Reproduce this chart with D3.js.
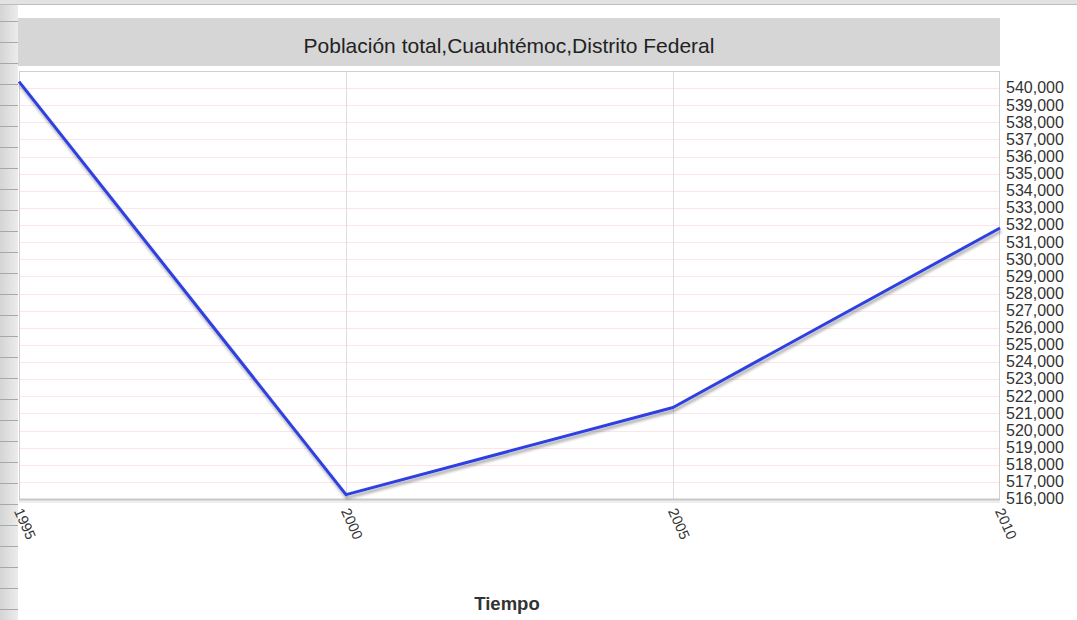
<!DOCTYPE html>
<html>
<head>
<meta charset="utf-8">
<script src="https://cdn.jsdelivr.net/npm/d3@7"></script>
<style>
  html, body { margin: 0; padding: 0; background: #fff; }
  svg { display: block; font-family: "Liberation Sans", Arial, sans-serif; }
</style>
</head>
<body>
<svg id="chart" width="1077" height="620"></svg>
<script>
// ---- data ----
const years = [1995, 2000, 2005, 2010];
const population = [540382, 516255, 521348, 531831];
const yTickValues = d3.range(516000, 541000, 1000);
const titleText = "Población total,Cuauhtémoc,Distrito Federal";
const xAxisTitle = "Tiempo";

// ---- layout ----
const W = 1077, H = 620;
const plot = { left: 19, right: 1000, top: 71, bottom: 499 };
const svg = d3.select("#chart");

const defs = svg.append("defs");
const f = defs.append("filter").attr("id", "shadow").attr("x", "-5%").attr("y", "-5%").attr("width", "110%").attr("height", "120%");
f.append("feGaussianBlur").attr("in", "SourceAlpha").attr("stdDeviation", 1.5).attr("result", "b");
f.append("feOffset").attr("in", "b").attr("dx", 1).attr("dy", 3).attr("result", "o");
f.append("feComponentTransfer").attr("in", "o").attr("result", "oa")
  .append("feFuncA").attr("type", "linear").attr("slope", 0.35);
const fm = f.append("feMerge");
fm.append("feMergeNode").attr("in", "oa");
fm.append("feMergeNode").attr("in", "SourceGraphic");

// background decoration (spreadsheet frame at left and top)
const grad = defs.append("linearGradient").attr("id", "strip").attr("x1", 0).attr("x2", 1);
grad.append("stop").attr("offset", "0%").attr("stop-color", "#d4d4d4");
grad.append("stop").attr("offset", "100%").attr("stop-color", "#ececec");
svg.append("rect").attr("x", 0).attr("y", 0).attr("width", 18).attr("height", H).attr("fill", "url(#strip)");
svg.append("g").selectAll("line").data(d3.range(0, H, 21)).join("line")
  .attr("x1", 0).attr("x2", 18).attr("y1", d => d + 0.5).attr("y2", d => d + 0.5)
  .attr("stroke", "#a8a8a8").attr("stroke-width", 1);
svg.append("rect").attr("x", 0).attr("y", 0).attr("width", W).attr("height", 5).attr("fill", "#e2e2e2");
svg.append("line").attr("x1", 0).attr("x2", W).attr("y1", 4.5).attr("y2", 4.5).attr("stroke", "#bdbdbd");

// title band
svg.append("rect").attr("x", 18).attr("y", 18).attr("width", 982).attr("height", 48).attr("fill", "#d6d6d6");
svg.append("text").attr("x", 509).attr("y", 52.5).attr("text-anchor", "middle")
  .attr("font-size", 21).attr("fill", "#222").text(titleText);

// scales
const x = d3.scaleLinear().domain([1995, 2010]).range([plot.left, plot.right]);
const y = d3.scaleLinear().domain([516000, 541000]).range([plot.bottom, plot.top]);

// plot background + shadow
svg.append("rect").attr("x", plot.left).attr("y", plot.bottom).attr("width", plot.right - plot.left).attr("height", 4)
  .attr("fill", "#eeeeee");
svg.append("rect").attr("x", plot.left).attr("y", plot.top).attr("width", plot.right - plot.left).attr("height", plot.bottom - plot.top)
  .attr("fill", "#fff");

// horizontal gridlines
svg.append("g").selectAll("line").data(yTickValues.concat([541000])).join("line")
  .attr("x1", plot.left).attr("x2", plot.right)
  .attr("y1", d => Math.round(y(d)) + 0.5).attr("y2", d => Math.round(y(d)) + 0.5)
  .attr("stroke", "#fbe4ea").attr("stroke-width", 1);

// vertical gridlines
svg.append("g").selectAll("line").data(years.slice(1, -1)).join("line")
  .attr("x1", d => Math.round(x(d)) + 0.5).attr("x2", d => Math.round(x(d)) + 0.5)
  .attr("y1", plot.top).attr("y2", plot.bottom)
  .attr("stroke", "#dddddd").attr("stroke-width", 1);

// plot border
svg.append("rect").attr("x", plot.left + 0.5).attr("y", plot.top + 0.5)
  .attr("width", plot.right - plot.left - 1).attr("height", plot.bottom - plot.top)
  .attr("fill", "none").attr("stroke", "#d0d0d0");
svg.append("line").attr("x1", plot.left).attr("x2", plot.right).attr("y1", plot.bottom + 0.5).attr("y2", plot.bottom + 0.5)
  .attr("stroke", "#c8c8c8").attr("stroke-width", 2);

// line
const line = d3.line().x((d, i) => x(years[i])).y(d => y(d));
svg.append("path").datum(population).attr("d", line)
  .attr("fill", "none").attr("stroke", "#2f3fe0").attr("stroke-width", 3)
  .attr("stroke-linejoin", "round").attr("filter", "url(#shadow)");

// y axis (right)
const yAxis = d3.axisRight(y).tickValues(yTickValues).tickSize(0).tickPadding(7)
  .tickFormat(d3.format(",.0f"));
const gy = svg.append("g").attr("transform", `translate(${plot.right - 1},0)`).call(yAxis);
gy.select(".domain").remove();
gy.selectAll("text").attr("font-size", 16).attr("fill", "#333")
  .attr("font-family", "Liberation Sans, Arial, sans-serif").attr("dy", "0.3em");

// x axis
const xAxis = d3.axisBottom(x).tickValues(years).tickSize(0).tickFormat(d3.format("d"));
const gx = svg.append("g").attr("transform", `translate(0,${plot.bottom + 4})`).call(xAxis);
gx.select(".domain").remove();
gx.selectAll("text")
  .attr("font-size", 14.5).attr("fill", "#333").attr("font-family", "Liberation Sans, Arial, sans-serif")
  .attr("text-anchor", "start").attr("dy", "0.35em").attr("y", 0).attr("x", 0)
  .attr("transform", "translate(-1,6) rotate(66)");

// axis title
svg.append("text").attr("x", 507).attr("y", 610).attr("text-anchor", "middle")
  .attr("font-size", 18.5).attr("font-weight", "bold").attr("fill", "#333").text(xAxisTitle);
</script>
</body>
</html>
